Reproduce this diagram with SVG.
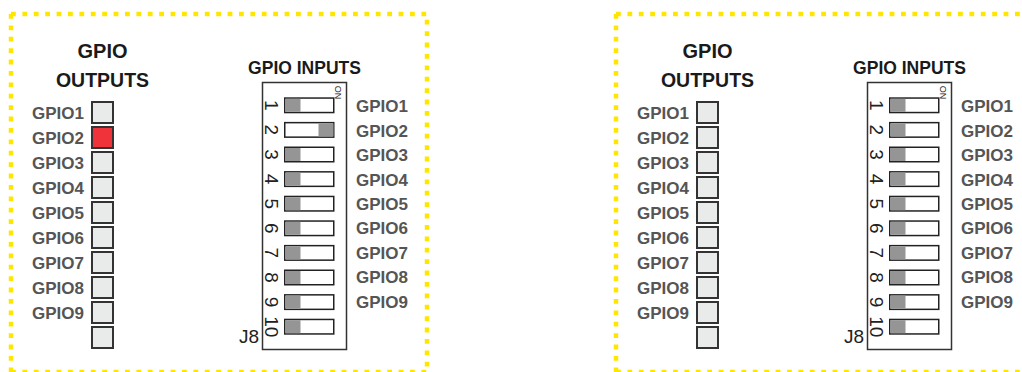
<svg xmlns="http://www.w3.org/2000/svg" width="1022" height="372" viewBox="0 0 1022 372">
<style>
.frame{fill:none;stroke:#FFE600;stroke-width:4.5;stroke-dasharray:4.8 6.6}
.title{font-family:"Liberation Sans",Arial,sans-serif;font-weight:bold;fill:#1a1a1a;text-anchor:middle}
.lbl{font-family:"Liberation Sans",Arial,sans-serif;font-weight:bold;fill:#555555;font-size:17px}
.lblo{text-anchor:end}
.led{fill:#E9EBEA;stroke:#333333;stroke-width:2}
.on{fill:#F0323A}
.body{fill:#ffffff;stroke:#333333;stroke-width:1.5}
.slot{fill:#ffffff;stroke:#222222;stroke-width:1.5}
.knob{fill:#959595}
.num{font-family:"Liberation Sans",Arial,sans-serif;font-size:19px;fill:#222222;text-anchor:middle}
.onl{font-family:"Liberation Sans",Arial,sans-serif;font-size:9px;fill:#222222;text-anchor:middle}
.j8{font-family:"Liberation Sans",Arial,sans-serif;font-size:19px;fill:#222222}
</style>
<defs>
<g id="outputs">
<text class="title" x="102.5" y="58" font-size="20">GPIO</text>
<text class="title" x="102.5" y="87" font-size="19.5">OUTPUTS</text>
<text class="lbl lblo" x="84" y="119.3">GPIO1</text>
<text class="lbl lblo" x="84" y="144.3">GPIO2</text>
<text class="lbl lblo" x="84" y="169.3">GPIO3</text>
<text class="lbl lblo" x="84" y="194.3">GPIO4</text>
<text class="lbl lblo" x="84" y="219.3">GPIO5</text>
<text class="lbl lblo" x="84" y="244.3">GPIO6</text>
<text class="lbl lblo" x="84" y="269.3">GPIO7</text>
<text class="lbl lblo" x="84" y="294.3">GPIO8</text>
<text class="lbl lblo" x="84" y="319.3">GPIO9</text>
<rect class="led" x="92" y="102" width="21" height="21"/>
<rect class="led" x="92" y="152" width="21" height="21"/>
<rect class="led" x="92" y="177" width="21" height="21"/>
<rect class="led" x="92" y="202" width="21" height="21"/>
<rect class="led" x="92" y="227" width="21" height="21"/>
<rect class="led" x="92" y="252" width="21" height="21"/>
<rect class="led" x="92" y="277" width="21" height="21"/>
<rect class="led" x="92" y="302" width="21" height="21"/>
<rect class="led" x="92" y="327" width="21" height="21"/>
</g>
<g id="dipbase">
<text class="title" x="304.5" y="74.3" font-size="17.5">GPIO INPUTS</text>
<rect class="body" x="262.5" y="82.5" width="84" height="267"/>
<text class="onl" transform="translate(335.3,92.5) rotate(90)">ON</text>
<text class="j8" x="239" y="343">J8</text>
<g class="slots">
<rect class="slot" x="284.75" y="98.05" width="49" height="14.5"/>
<rect class="slot" x="284.75" y="122.65" width="49" height="14.5"/>
<rect class="slot" x="284.75" y="147.25" width="49" height="14.5"/>
<rect class="slot" x="284.75" y="171.85" width="49" height="14.5"/>
<rect class="slot" x="284.75" y="196.45" width="49" height="14.5"/>
<rect class="slot" x="284.75" y="221.05" width="49" height="14.5"/>
<rect class="slot" x="284.75" y="245.65" width="49" height="14.5"/>
<rect class="slot" x="284.75" y="270.25" width="49" height="14.5"/>
<rect class="slot" x="284.75" y="294.85" width="49" height="14.5"/>
<rect class="slot" x="284.75" y="319.45" width="49" height="14.5"/>
</g>
<g class="knobs">
<rect class="knob" x="285.5" y="98.8" width="15" height="13"/>
<rect class="knob" x="285.5" y="148" width="15" height="13"/>
<rect class="knob" x="285.5" y="172.6" width="15" height="13"/>
<rect class="knob" x="285.5" y="197.2" width="15" height="13"/>
<rect class="knob" x="285.5" y="221.8" width="15" height="13"/>
<rect class="knob" x="285.5" y="246.4" width="15" height="13"/>
<rect class="knob" x="285.5" y="271" width="15" height="13"/>
<rect class="knob" x="285.5" y="295.6" width="15" height="13"/>
<rect class="knob" x="285.5" y="320.2" width="15" height="13"/>
</g>
<text class="num" transform="translate(265,105.3) rotate(90)">1</text>
<text class="num" transform="translate(265,129.9) rotate(90)">2</text>
<text class="num" transform="translate(265,154.5) rotate(90)">3</text>
<text class="num" transform="translate(265,179.1) rotate(90)">4</text>
<text class="num" transform="translate(265,203.7) rotate(90)">5</text>
<text class="num" transform="translate(265,228.3) rotate(90)">6</text>
<text class="num" transform="translate(265,252.9) rotate(90)">7</text>
<text class="num" transform="translate(265,277.5) rotate(90)">8</text>
<text class="num" transform="translate(265,302.1) rotate(90)">9</text>
<text class="num" transform="translate(265,326.7) rotate(90)">10</text>
<text class="lbl" x="356" y="112.3">GPIO1</text>
<text class="lbl" x="356" y="136.7">GPIO2</text>
<text class="lbl" x="356" y="161.1">GPIO3</text>
<text class="lbl" x="356" y="185.5">GPIO4</text>
<text class="lbl" x="356" y="209.9">GPIO5</text>
<text class="lbl" x="356" y="234.3">GPIO6</text>
<text class="lbl" x="356" y="258.7">GPIO7</text>
<text class="lbl" x="356" y="283.1">GPIO8</text>
<text class="lbl" x="356" y="307.5">GPIO9</text>
</g>
</defs>
<g id="panel-left">
<path class="frame" d="M11,14 H427 V372"/>
<path class="frame" d="M11,14 V372"/>
<path class="frame" d="M11,372 H427"/>
<g id="outputs-left">
<use href="#outputs"/>
<rect class="led on" x="92" y="127" width="21" height="21"/>
</g>
<g id="inputs-left">
<use href="#dipbase"/>
<rect class="knob" x="318.5" y="123.4" width="15" height="13"/>
</g>
</g>
<g id="panel-right" transform="translate(605,0)">
<path class="frame" d="M11,14 H430"/>
<path class="frame" d="M11,14 V372"/>
<path class="frame" d="M11,372 H430"/>
<g id="outputs-right">
<use href="#outputs"/>
<rect class="led" x="92" y="127" width="21" height="21"/>
</g>
<g id="inputs-right">
<use href="#dipbase"/>
<rect class="knob" x="285.5" y="123.4" width="15" height="13"/>
</g>
</g>
</svg>
